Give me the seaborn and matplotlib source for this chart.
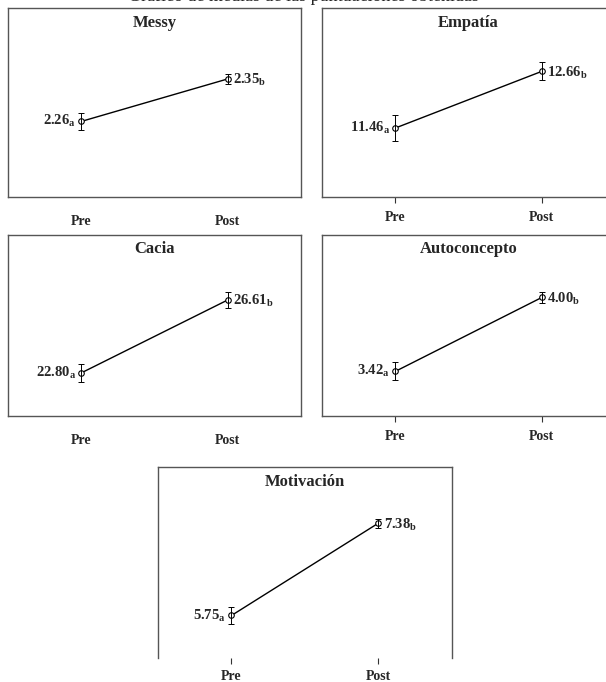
import matplotlib
matplotlib.use("Agg")
import matplotlib.pyplot as plt
import pandas as pd
import seaborn as sns

# Data (means and error bar half-widths)
phases = ["Pre", "Post"]
scales = ["Messy", "Empatía", "Cacia", "Autoconcepto", "Motivación"]
pre_means = [2.26, 11.46, 22.80, 3.42, 5.75]
post_means = [2.35, 12.66, 26.61, 4.00, 7.38]
pre_err = [0.018, 0.28, 0.45, 0.07, 0.15]
post_err = [0.01, 0.19, 0.42, 0.04, 0.08]
pre_group = ["a", "a", "a", "a", "a"]
post_group = ["b", "b", "b", "b", "b"]
y_limits = [(2.10, 2.50), (10.0, 14.0), (20.55, 30.0), (3.07, 4.49), (5.0, 8.37)]

sns.set_theme(style="white")
plt.rcParams['font.family'] = ['Liberation Serif', 'DejaVu Serif']
plt.rcParams['font.weight'] = 'bold'
plt.rcParams['mathtext.fontset'] = 'custom'
plt.rcParams['mathtext.rm'] = 'Liberation Serif:bold'
plt.rcParams['mathtext.bf'] = 'Liberation Serif:bold'
plt.rcParams['mathtext.it'] = 'Liberation Serif:bold'

fig = plt.figure(figsize=(6.06, 6.82), dpi=100)

# axes boxes in figure fractions: left, bottom, width, height
boxes = [
    [0.0132, 0.7111, 0.4835, 0.2771],
    [0.5314, 0.7111, 0.4835, 0.2771],
    [0.0132, 0.3900, 0.4835, 0.2654],
    [0.5314, 0.3900, 0.4835, 0.2654],
    [0.2607, 0.0352, 0.4850, 0.2800],
]
show_ticks = [False, True, False, True, True]

# figure title, cut by the top edge as in the source page
fig.text(0.5, 1 - 1 / 682, "Gráfico de medias de las puntuaciones obtenidas",
         ha='center', va='baseline', fontsize=13, fontweight='normal')

for i, name in enumerate(scales):
    ax = fig.add_axes(boxes[i])
    df = pd.DataFrame({"fase": phases, "media": [pre_means[i], post_means[i]]})
    sns.pointplot(data=df, x="fase", y="media", color="black", errorbar=None,
                  markers="o", linewidth=1.0, markersize=4, ax=ax)
    for ln in ax.lines:
        ln.set_markerfacecolor("white")
        ln.set_markeredgewidth(0.8)
    xs = list(range(len(phases)))
    ax.errorbar(xs, [pre_means[i], post_means[i]], yerr=[pre_err[i], post_err[i]],
                fmt='none', ecolor='black', elinewidth=0.7, capsize=2.5, capthick=0.7)

    ax.set_xlim(-0.5, 1.5)
    ax.set_ylim(*y_limits[i])
    ax.set_yticks([])
    ax.set_xlabel("")
    ax.set_ylabel("")
    for sp in ax.spines.values():
        sp.set_color("#555555")
        sp.set_linewidth(1.0)
    if i == 4:
        ax.spines['bottom'].set_visible(False)
    if show_ticks[i]:
        ax.tick_params(axis='x', bottom=True, length=4, width=0.8, color='#333333',
                       direction='out', pad=6 if i < 4 else 5)
    else:
        ax.tick_params(axis='x', bottom=False, pad=7)
    for lab in ax.get_xticklabels():
        lab.set_fontsize(10)
        lab.set_fontweight('bold')

    ax.text(0.5, 0.965, name, transform=ax.transAxes, ha='center', va='top',
            fontsize=12, fontweight='bold')

    ax.annotate(r"$%.2f_{%s}$" % (pre_means[i], pre_group[i]), (0, pre_means[i]),
                xytext=(-4, 0), textcoords='offset points', ha='right', va='center',
                fontsize=10.5)
    ax.annotate(r"$%.2f_{%s}$" % (post_means[i], post_group[i]), (1, post_means[i]),
                xytext=(4, -1), textcoords='offset points', ha='left', va='center',
                fontsize=10.5)

fig.savefig("out.png", dpi=100)
